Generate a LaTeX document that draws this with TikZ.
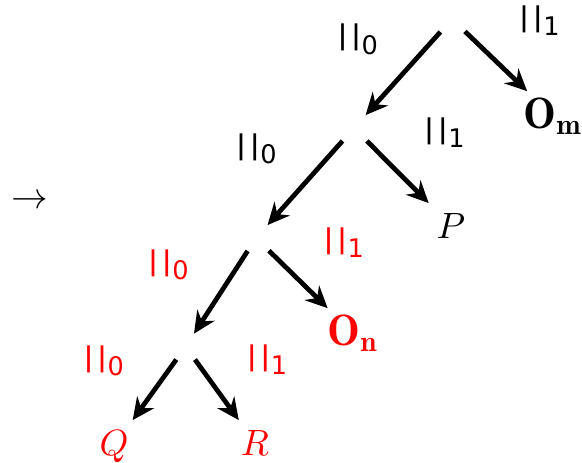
\documentclass[tikz,border=0pt]{standalone}
\usepackage{fontspec}
\usepackage{graphicx}
\usetikzlibrary{arrows.meta}
\newfontfamily\labfont{DejaVu Sans}
\newcommand\lbar{\resizebox{0.3em}{0.74em}{\raisebox{\depth}{|}}}
\newcommand\plab[1]{{\labfont\lbar\kern0.7pt\lbar\kern0pt\raisebox{-0.8pt}{\fontsize{7}{8}\selectfont #1}}}
\begin{document}
\begin{tikzpicture}[x=0.27322pt,y=-0.27322pt,
  tn/.style={inner sep=3.3333pt},
  leaf/.style={anchor=base,inner sep=2.5pt},
  big/.style={leaf,inner sep=1.5pt,font=\fontsize{12}{14}\selectfont},
  edge/.style={line width=1.3pt,-{Stealth[length=6pt,width=5.6pt,inset=2pt]}},
  lab/.style={inner sep=0pt,anchor=base west}]
\useasboundingbox (0,0) rectangle (582,462);
% tree nodes
\node[tn] (n1) at (452,19) {};
\node[tn] (n2) at (354,128) {};
\node[tn] (n3) at (256,238) {};
\node[tn] (n4) at (185.6,346.6) {};
% leaves
\node[big] (om) at (553,128) {$\mathbf{O_m}$};
\node[leaf] (p) at (451,238) {$P$};
\node[big,text=red] (on) at (353,345) {$\mathbf{O_n}$};
\node[leaf,text=red] (q) at (114,455) {$Q$};
\node[leaf,text=red] (r) at (255,455) {$R$};
% edges
\draw[edge] (n1) -- (n2);
\draw[edge] (n1) -- (om);
\draw[edge] (n2) -- (n3);
\draw[edge] (n2) -- (p);
\draw[edge] (n3) -- (n4);
\draw[edge] (n3) -- (on);
\draw[edge] (n4) -- (q);
\draw[edge] (n4) -- (r);
% labels
\node[lab] (l1a) at (336.3,51.3) {\plab{0}};
\node[lab] (l1b) at (518,33) {\plab{1}};
\node[lab] (l2a) at (235,160.7) {\plab{0}};
\node[lab] (l2b) at (423,145) {\plab{1}};
\node[lab,text=red] (l3a) at (147,276.7) {\plab{0}};
\node[lab,text=red] (l3b) at (322.3,254.5) {\plab{1}};
\node[lab,text=red] (l4a) at (82.3,372.7) {\plab{0}};
\node[lab,text=red] (l4b) at (245.6,372) {\plab{1}};
% left arrow
\node[lab] (arr) at (11,208) {$\rightarrow$};
\end{tikzpicture}
\end{document}
